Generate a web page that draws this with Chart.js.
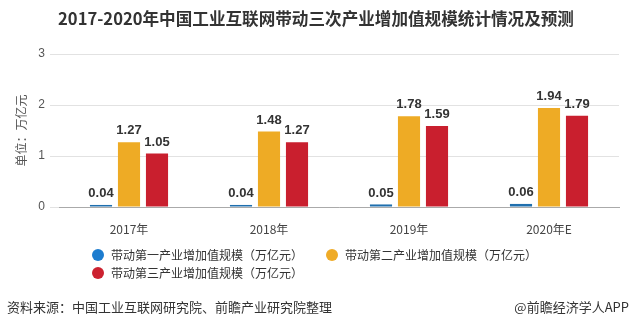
<!DOCTYPE html>
<html>
<head>
<meta charset="utf-8">
<script src="https://cdn.jsdelivr.net/npm/chart.js@4/dist/chart.umd.min.js"></script>
<style>
  body { margin: 0; background: #fff; }
  #wrap { position: relative; width: 632px; height: 326px; font-family: "Noto Sans CJK SC", sans-serif; color: #333; }
  #chart { position: absolute; left: 0; top: 0; }
  .txt { position: absolute; white-space: nowrap; line-height: 1; }
  #title { left: 0; width: 632px; top: 10px; text-align: center; font-size: 16.6px; font-weight: bold; color: #333; }
  .leg { position: absolute; font-size: 12px; line-height: 14px; white-space: nowrap; color: #333; }
  .leg i { position: absolute; left: -19px; top: 1px; width: 12px; height: 12px; border-radius: 50%; }
  #src { left: 7px; top: 300px; font-size: 13px; }
  #app { right: 3px; top: 300px; font-size: 13px; }
</style>
</head>
<body>
<div id="wrap">
  <canvas id="chart" width="632" height="326"></canvas>
  <div class="txt" id="title">2017-2020年中国工业互联网带动三次产业增加值规模统计情况及预测</div>
  <div id="legend"></div>
  <div class="txt" id="src">资料来源：中国工业互联网研究院、前瞻产业研究院整理</div>
  <div class="txt" id="app">@前瞻经济学人APP</div>
</div>
<script>
const years = ["2017年", "2018年", "2019年", "2020年E"];
const primary = [0.04, 0.04, 0.05, 0.06];
const secondary = [1.27, 1.48, 1.78, 1.94];
const tertiary = [1.05, 1.27, 1.59, 1.79];
const seriesNames = [
  "带动第一产业增加值规模（万亿元）",
  "带动第二产业增加值规模（万亿元）",
  "带动第三产业增加值规模（万亿元）",
];
const yTicks = [0, 1, 2, 3];

// values over the bars
const barLabels = {
  id: "barLabels",
  afterDatasetsDraw(chart) {
    const ctx = chart.ctx;
    ctx.save();
    ctx.font = "bold 13px 'Liberation Sans', sans-serif";
    ctx.fillStyle = "#333";
    ctx.textAlign = "center";
    ctx.textBaseline = "bottom";
    chart.data.datasets.forEach((ds, i) => {
      chart.getDatasetMeta(i).data.forEach((bar, j) => {
        ctx.fillText(ds.data[j].toFixed(2), bar.x, bar.y - 5);
      });
    });
    ctx.restore();
  },
};

const chart = new Chart(document.getElementById("chart").getContext("2d"), {
  type: "bar",
  data: {
    labels: years,
    datasets: [
      { label: seriesNames[0], data: primary, backgroundColor: "#1f6fae", legendColor: "#1c7ccf" },
      { label: seriesNames[1], data: secondary, backgroundColor: "#eeab25", legendColor: "#efab27" },
      { label: seriesNames[2], data: tertiary, backgroundColor: "#c91f2e", legendColor: "#cc2230" },
    ],
  },
  options: {
    responsive: false,
    animation: false,
    barPercentage: 0.79,
    categoryPercentage: 0.6,
    layout: { padding: { top: 54, right: 13, bottom: 89, left: 0 } },
    plugins: {
      legend: { display: false },
      tooltip: { enabled: false },
    },
    scales: {
      x: {
        grid: { display: false },
        border: { color: "#aaa" },
        ticks: { color: "#444", font: { size: 12, family: "'Noto Sans CJK SC', sans-serif" }, padding: 7 },
        afterFit: (s) => { s.height = 30; },
      },
      y: {
        min: 0,
        max: 3,
        afterBuildTicks: (s) => { s.ticks = yTicks.map((v) => ({ value: v })); },
        ticks: { color: "#555", font: { size: 12, family: "'Liberation Sans', sans-serif" }, padding: 5 },
        grid: { color: "#e2e2e2", tickLength: 9 },
        border: { display: false },
        title: {
          display: true,
          text: "单位：万亿元",
          color: "#555",
          font: { size: 12, family: "'Noto Sans CJK SC', sans-serif" },
          padding: { top: 14, bottom: 0 },
        },
        afterFit: (s) => { s.width = 59; },
      },
    },
  },
  plugins: [barLabels],
});

// legend built from the chart datasets
const legendPos = [[111, 248], [345, 248], [111, 266]];
const legend = document.getElementById("legend");
chart.data.datasets.forEach((ds, i) => {
  const d = document.createElement("div");
  d.className = "leg";
  d.style.left = legendPos[i][0] + "px";
  d.style.top = legendPos[i][1] + "px";
  d.innerHTML = '<i style="background:' + ds.legendColor + '"></i>' + ds.label;
  legend.appendChild(d);
});
</script>
</body>
</html>
